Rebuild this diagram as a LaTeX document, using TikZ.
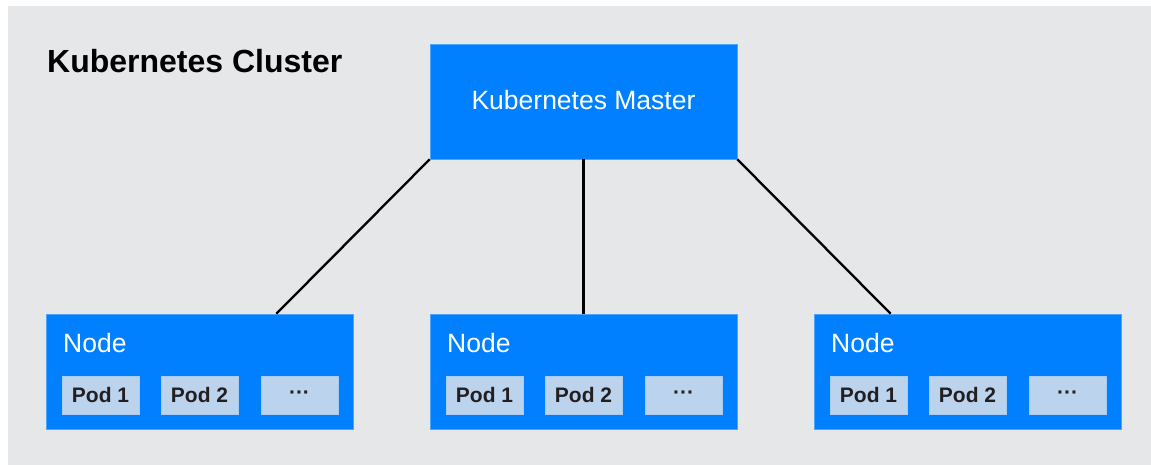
\documentclass[tikz,border=0pt]{standalone}
\usepackage{fontspec}
\setmainfont{Liberation Sans}
\usetikzlibrary{calc}
\definecolor{bg}{HTML}{E6E7E9}
\definecolor{kblue}{HTML}{0080FF}
\definecolor{podblue}{HTML}{BCD3EE}
\definecolor{podtext}{HTML}{231F20}
\tikzset{
  bluebox/.style={rectangle, fill=kblue, draw=kblue!70!white, line width=0.6pt, minimum width=307pt, minimum height=115pt, inner sep=0pt},
  podbox/.style={rectangle, fill=podblue, draw=podblue!90!kblue, line width=0.6pt, minimum width=77pt, minimum height=38pt, inner sep=0pt, font=\fontsize{21}{23}\selectfont\bfseries, text=podtext},
  nodelabel/.style={anchor=base west, inner sep=0pt, text=white, font=\fontsize{26.5}{30}\selectfont},
  link/.style={line width=2.3pt, black},
}
\begin{document}
\begin{tikzpicture}[x=1pt,y=-1pt]
\useasboundingbox (0,0) rectangle (1151,465);
\fill[white] (0,0) rectangle (1151,465);
\fill[bg] (8,6) rectangle (1151,465);
\node[anchor=base west, inner sep=0pt, font=\fontsize{32}{35}\selectfont\bfseries] (title) at (47,73) {Kubernetes Cluster};
\node[bluebox] (master) at (583.5,101.5) {};
\node[anchor=base, inner sep=0pt, text=white, font=\fontsize{26.5}{30}\selectfont] (mastertext) at (583.5,110) {Kubernetes Master};
\foreach \i/\cx in {1/199.5, 2/583.5, 3/967.5} {
  \node[bluebox] (n\i) at (\cx,371.5) {};
  \node[nodelabel] (n\i text) at (\cx-153.5+17,352) {Node};
  \node[podbox] (n\i p1) at (\cx-153.5+54.5,395) {Pod 1};
  \node[podbox] (n\i p2) at (\cx-153.5+153.5,395) {Pod 2};
  \node[podbox] (n\i p3) at (\cx-153.5+253.5,395) {···};
}
\draw[link] (master.south west) -- ($(n1.north)!0.5!(n1.north east)$);
\draw[link] (master.south) -- (n2.north);
\draw[link] (master.south east) -- ($(n3.north)!0.5!(n3.north west)$);
\end{tikzpicture}
\end{document}
